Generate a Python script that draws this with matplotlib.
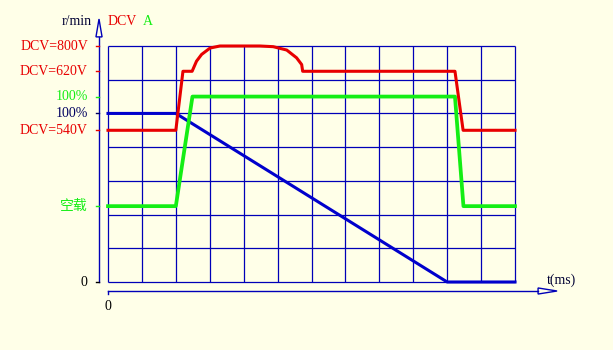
import matplotlib
matplotlib.use('Agg')
from matplotlib import pyplot as plt
from matplotlib.patches import Polygon

# Curve data (x in grid columns, y in grid rows)
red_x = [0, 2.0, 2.21, 2.48, 2.61, 2.76, 3.01, 3.3, 3.6, 4.48, 4.87, 5.27, 5.56, 5.71, 5.74, 10.23, 10.47, 12]
red_y = [4.5, 4.5, 6.25, 6.25, 6.55, 6.75, 6.94, 7.0, 7.0, 7.0, 6.98, 6.88, 6.65, 6.45, 6.25, 6.25, 4.5, 4.5]
green_x = [0, 2.0, 2.49, 10.23, 10.48, 12]
green_y = [2.25, 2.25, 5.5, 5.5, 2.25, 2.25]
blue_x = [0, 2.0, 10.0, 12]
blue_y = [5, 5, 0, 0]

# Left axis labels
ytick_pos = [7, 6.25, 5.5, 5, 4.5, 2.25, 0]
ytick_labels = ['DCV=800V', 'DCV=620V', '100%', '100%', 'DCV=540V', '空载', '0']

BG = '#FFFFE8'
GRID = '#0000B8'
RED = '#E80000'
GREEN = '#14EE14'
BLUE = '#0000CC'
NAVY = '#000060'

ytick_colors = [RED, RED, GREEN, NAVY, RED, GREEN, '#000000']

plt.rcParams['font.family'] = ['Liberation Serif', 'Noto Sans CJK SC', 'DejaVu Sans']
plt.rcParams['font.size'] = 10

fig = plt.figure(figsize=(6.13, 3.5), dpi=100, facecolor=BG)
ax = fig.add_axes([108 / 613, 68 / 350, 407 / 613, 236 / 350])
ax.set_facecolor(BG)
ax.set_xlim(0, 12)
ax.set_ylim(0, 7)
for s in ax.spines.values():
    s.set_visible(False)
ax.set_xticks([])
ax.set_yticks([])

# grid
ax.vlines(range(13), 0, 7, color=GRID, lw=0.9, clip_on=False)
ax.hlines(range(8), 0, 12, color=GRID, lw=0.9, clip_on=False)

# curves
ax.plot(blue_x, blue_y, color=BLUE, lw=2.2, clip_on=False)
ax.plot(green_x, green_y, color=GREEN, lw=2.7, clip_on=False)
ax.plot(red_x, red_y, color=RED, lw=2.2, clip_on=False)

# left axis with hollow arrow
yx = -0.265
ax.plot([yx, yx], [0, 7.27], color=GRID, lw=1, clip_on=False)
ax.add_patch(Polygon([[yx, 7.8], [yx - 0.09, 7.27], [yx + 0.09, 7.27]], closed=True,
                     facecolor=BG, edgecolor=GRID, lw=1, clip_on=False))
for pos, lab, col in zip(ytick_pos, ytick_labels, ytick_colors):
    ax.plot([yx - 0.09, yx], [pos, pos], color=col, lw=1, clip_on=False)
    ax.text(yx - 0.33, pos, lab, color=col, ha='right', va='center', fontsize=10)

ax.text(yx - 0.2, 7.72, 'r/min', color='#000033', ha='right', va='center')
ax.text(0.0, 7.72, 'DCV', color=RED, ha='left', va='center')
ax.text(1.03, 7.72, 'A', color=GREEN, ha='left', va='center')

# bottom axis with hollow arrow
xy = -0.267
ax.plot([0, 0], [xy - 0.1, xy], color=GRID, lw=1, clip_on=False)
ax.plot([0, 12.68], [xy, xy], color=GRID, lw=1, clip_on=False)
ax.add_patch(Polygon([[13.24, xy], [12.68, xy + 0.09], [12.68, xy - 0.09]], closed=True,
                     facecolor=BG, edgecolor=GRID, lw=1, clip_on=False))
ax.text(12.94, 0.06, 't(ms)', color='#000033', ha='left', va='center')
ax.text(0.0, -0.74, '0', color='#000000', ha='center', va='center')

fig.savefig('out.png', dpi=100, facecolor=BG)
